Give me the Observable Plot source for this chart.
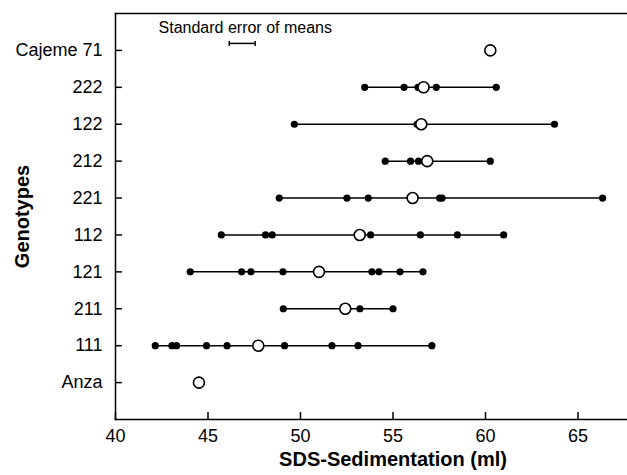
<!DOCTYPE html>
<html><head><meta charset="utf-8">
<script src="https://cdn.jsdelivr.net/npm/d3@7"></script>
<script src="https://cdn.jsdelivr.net/npm/@observablehq/plot@0.6"></script>
<style>
body{margin:0;background:#fff;}
#chart svg{font-family:"Liberation Sans",Arial,Helvetica,sans-serif;}
</style>
</head><body><div id="chart"></div>
<script>
// Categories (top to bottom)
const genotypes = ["Cajeme 71","222","122","212","221","112","121","211","111","Anza"];
// Genotype means (open circles)
const means = [60.26, 56.65, 56.53, 56.85, 56.06, 53.2, 51.0, 52.42, 47.72, 44.51];
// Individual lines (filled dots) per genotype
const lines222 = [53.47, 55.6, 56.35, 57.34, 60.58];
const lines122 = [49.67, 56.3, 63.73];
const lines212 = [54.58, 55.95, 56.38, 60.26];
const lines221 = [48.85, 52.51, 53.66, 57.52, 57.65, 66.33];
const lines112 = [45.72, 48.11, 48.47, 53.79, 56.48, 58.48, 60.98];
const lines121 = [44.04, 46.82, 47.32, 49.05, 53.86, 54.24, 55.38, 56.62];
const lines211 = [49.07, 53.21, 55.0];
const lines111 = [42.15, 43.05, 43.3, 44.92, 46.03, 49.14, 51.7, 53.11, 57.1];
// Axis ticks
const xTicks = [40, 45, 50, 55, 60, 65];
// Standard error of means bar (x extent)
const seBar = [46.15, 47.55];
const seLabel = "Standard error of means";
const xTitle = "SDS-Sedimentation (ml)";
const yTitle = "Genotypes";

const lineSets = {"222": lines222, "122": lines122, "212": lines212, "221": lines221,
  "112": lines112, "121": lines121, "211": lines211, "111": lines111};
const individuals = Object.entries(lineSets).flatMap(([g, vs]) => vs.map(v => ({g, v})));
const ranges = Object.entries(lineSets).map(([g, vs]) => ({g, min: d3.min(vs), max: d3.max(vs)}));
const meanRows = genotypes.map((g, i) => ({g, m: means[i]}));
const seRow = {g: genotypes[0], x1: seBar[0], x2: seBar[1], mid: (seBar[0] + seBar[1]) / 2};
const seEnds = seBar.map(x => ({g: genotypes[0], x}));

// custom symbols: centred vertical bar, upward tick, rightward tick
const vbar = {draw(ctx, size) { const h = Math.sqrt(size) / 2; ctx.moveTo(0, -h); ctx.lineTo(0, h); }};
const upTick = {draw(ctx, size) { const h = Math.sqrt(size); ctx.moveTo(0, 0); ctx.lineTo(0, -h); }};
const rightTick = {draw(ctx, size) { const h = Math.sqrt(size); ctx.moveTo(0, 0); ctx.lineTo(h, 0); }};

const plot = Plot.plot({
  width: 627, height: 475,
  marginLeft: 115, marginRight: -43, marginTop: 13, marginBottom: 56,
  style: {background: "#fff", color: "#000", overflow: "hidden", fontFamily: "Liberation Sans, Arial, sans-serif"},
  x: {domain: [40, 70]},
  y: {type: "point", domain: genotypes, padding: 1, round: false},
  marks: [
    Plot.frame({anchor: "top", stroke: "#000", strokeWidth: 1.5}),
    Plot.frame({anchor: "left", stroke: "#000", strokeWidth: 1.5}),
    Plot.frame({anchor: "bottom", stroke: "#000", strokeWidth: 1.5}),
    Plot.axisX({ticks: xTicks, tickSize: 0, tickPadding: 10, fontSize: 18, label: null}),
    Plot.axisY({tickSize: 0, tickPadding: 13, fontSize: 18, label: null}),
    // inward ticks
    Plot.dot(xTicks, {x: d => d, frameAnchor: "bottom", r: 4.2, symbol: upTick, stroke: "#000", strokeWidth: 1.5}),
    Plot.dot(genotypes, {y: d => d, frameAnchor: "left", r: 3.6, symbol: rightTick, stroke: "#000", strokeWidth: 1.5}),
    Plot.ruleY(ranges, {y: "g", x1: "min", x2: "max", stroke: "#000", strokeWidth: 1.5}),
    Plot.dot(individuals, {x: "v", y: "g", r: 3.6, fill: "#000", stroke: "none"}),
    Plot.dot(meanRows, {x: "m", y: "g", r: 5.5, fill: "#fff", stroke: "#000", strokeWidth: 1.6}),
    Plot.ruleY([seRow], {y: "g", x1: "x1", x2: "x2", dy: -7, stroke: "#000", strokeWidth: 1.5}),
    Plot.dot(seEnds, {x: "x", y: "g", dy: -7, r: 2.8, symbol: vbar, stroke: "#000", strokeWidth: 1.5}),
    Plot.text([seRow], {x: "mid", y: "g", dy: -23, dx: 3, text: () => seLabel, fontSize: 16, fill: "#000"}),
    Plot.text([xTitle], {frameAnchor: "bottom", lineAnchor: "middle", dy: 40, fontSize: 20, fontWeight: "bold", fill: "#000"}),
    Plot.text([yTitle], {frameAnchor: "left", textAnchor: "middle", lineAnchor: "middle", dx: -93, rotate: -90, fontSize: 20, fontWeight: "bold", fill: "#000"})
  ]
});
document.getElementById("chart").append(plot);
</script>
</body></html>
